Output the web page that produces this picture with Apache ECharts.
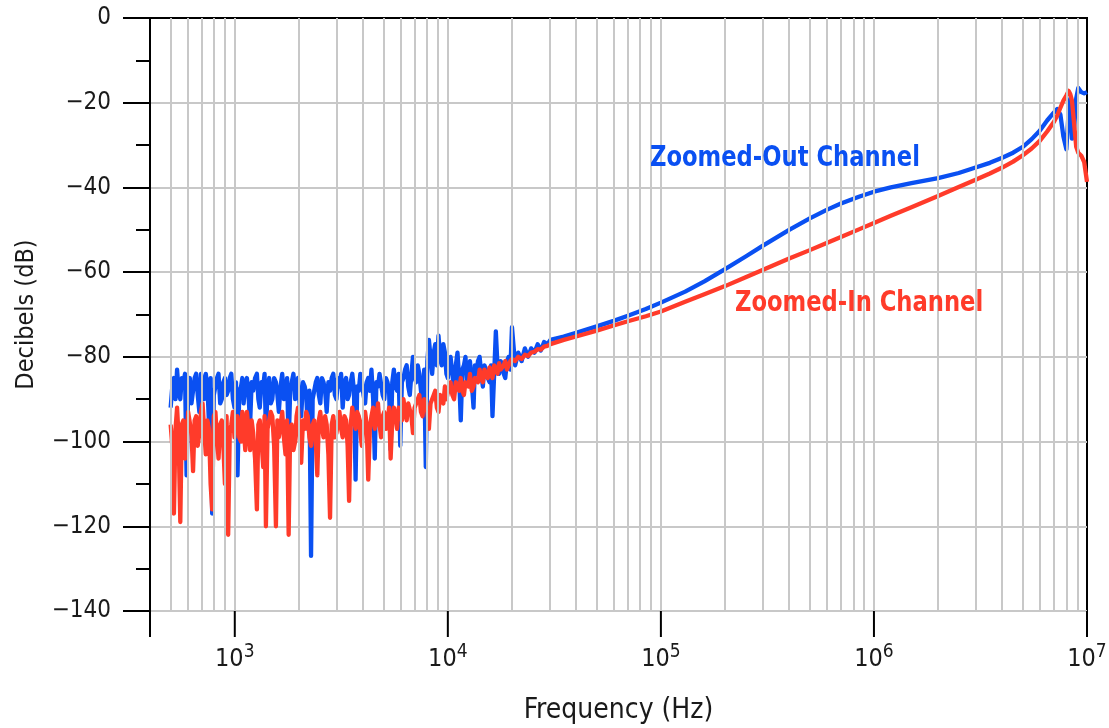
<!DOCTYPE html>
<html>
<head>
<meta charset="utf-8">
<script src="https://cdn.jsdelivr.net/npm/echarts@6/dist/echarts.min.js"></script>
<style>
html,body{margin:0;padding:0;background:#fff;}
#chart{width:1109px;height:728px;}
</style>
</head>
<body>
<div id="chart"></div>
<script>
// Frequencies (Hz) shared by both channels
var freqs = [
  500,509,518,527,536,545,555,564,574,584,594,604,615,626,637,648,659,670,682,694,706,718,731,744,757,770,783,797,811,825,839,854,869,884,899,915,931,947,963,980,997,1013,
  1030,1050,1070,1085,1100,1120,1140,1160,1180,1200,1220,1245,1270,1290,1310,1335,1360,1380,1400,1425,1450,1475,1500,1530,1560,1585,1610,1640,1670,1700,1730,1760,1790,1820,1850,1885,1920,1950,1980,2015,
  2050,2090,2130,2165,2200,2240,2280,2320,2360,2400,2440,2480,2520,2565,2610,2655,2700,2750,2800,2850,2900,2950,3000,3050,
  3100,3155,3210,3270,3330,3385,3440,3500,3560,3625,3690,3755,3820,3885,3950,4020,4090,4160,4230,4305,4380,4460,4540,4620,4700,4780,4860,4945,5030,5120,5210,5300,5390,5485,5580,5680,5780,5880,5980,6085,
  6190,6300,6410,6520,6630,6745,6860,6980,7100,7225,7350,7480,7610,7745,7880,8015,8150,8295,8440,8585,8730,8885,9040,9200,9360,9525,9690,9845,10000,10150,
  10300,10500,10700,10900,11100,11300,11500,11700,11900,12100,12300,12500,12700,12950,13200,13400,13600,13850,14100,14350,14600,14850,15100,15400,15700,15950,16200,16500,16800,17100,17400,17700,18000,18300,18600,18950,19300,19650,20000,
  20700,21400,22200,23000,23800,24600,25500,26400,27300,28300,29300,30300,
  35000,40000,50000,60000,70000,85000,100000,130000,160000,200000,250000,300000,400000,500000,600000,700000,850000,
  1000000,1200000,1500000,2000000,2500000,3000000,3500000,4000000,4500000,5000000,5500000,6000000,6500000,
  7000000,7250000,7500000,7750000,8000000,8200000,8350000,8500000,8700000,8900000,9100000,9400000,9700000,10000000
];

// Zoomed-Out Channel (dB)
var zoomedOut = [
  -92,-87,-85,-90,-83,-88,-90,-85,-86,-84,-108,-88,-85,-91,-88,-85,-84,-89,-93,-84,-86,-90,-84,-87,-96,-85,-117,-89,-87,-85,-84,-91,-90,-86,-85,-89,-88,-85,-84,-90,-92,-86,
  -108,-88,-87,-85,-91,-87,-85,-89,-96,-86,-88,-85,-84,-90,-92,-86,-87,-84,-98,-88,-85,-91,-90,-85,-86,-89,-93,-87,-84,-90,-89,-85,-101,-88,-86,-84,-90,-87,-85,-91,
  -94,-86,-87,-89,-97,-88,-127,-90,-88,-86,-85,-89,-91,-85,-86,-88,-93,-86,-88,-85,-84,-89,-90,-85,
  -87,-84,-92,-86,-85,-90,-89,-86,-84,-88,-109,-87,-88,-84,-86,-89,-91,-86,-85,-88,-83,-90,-104,-86,-87,-84,-84,-89,-90,-85,-86,-88,-102,-86,-83,-87,-88,-84,-101,-86,
  -85,-83,-82,-87,-89,-84,-80,-85,-86,-82,-84,-88,-91,-83,-106,-81,-76,-80,-84,-79,-77,-82,-75,-80,-82,-77,-79,-84,-85,-81,
  -80,-84,-88,-82,-79,-85,-95,-83,-82,-80,-86,-83,-81,-86,-92,-82,-84,-81,-80,-84,-87,-82,-83,-85,-86,-82,-94,-84,-74,-82,-84,-81,-82,-84,-85,-81,-80,-83,-73,
  -82,-79,-81,-78,-80,-78,-79,-77,-78.5,-76.5,-77,-76,
  -75.2,-74.3,-72.8,-71.5,-70.3,-68.7,-67.2,-64.6,-62.2,-59.3,-56.3,-53.8,-50,-47.3,-45.3,-43.8,-42.2,
  -41,-40,-39,-37.8,-36.6,-35.3,-34.2,-33,-31.8,-30.4,-28.6,-26.6,-24.2,
  -22.3,-21.5,-22.8,-28,-31,-22,-19,-28.5,-26,-19,-16.5,-17.5,-17.8,-17.5
];

// Zoomed-In Channel (dB)
var zoomedIn = [
  -96,-101,-117,-97,-92,-99,-119,-96,-95,-104,-100,-93,-93,-98,-107,-95,-94,-101,-98,-93,-91,-97,-103,-95,-97,-110,-116,-94,-93,-99,-104,-96,-95,-101,-110,-94,-122,-98,-96,-93,-99,-95,
  -94,-99,-100,-93,-96,-102,-93,-97,-102,-95,-98,-104,-116,-96,-95,-100,-106,-94,-120,-97,-97,-93,-94,-101,-120,-95,-99,-96,-93,-99,-103,-95,-122,-97,-96,-102,-100,-94,-92,-98,
  -105,-95,-97,-93,-94,-99,-101,-96,-95,-100,-108,-95,-93,-97,-99,-94,-96,-103,-118,-96,-94,-99,-98,-95,
  -93,-97,-99,-94,-95,-101,-114,-96,-92,-95,-97,-93,-94,-98,-101,-95,-93,-96,-109,-97,-94,-92,-97,-95,-91,-96,-99,-94,-93,-97,-96,-92,-104,-95,-92,-94,-97,-92,-93,-95,
  -90,-93,-95,-91,-91,-94,-98,-92,-92,-90,-89,-93,-94,-90,-90,-93,-97,-91,-91,-89,-88,-92,-93,-89,-89,-91,-87,-90,-90,-87,
  -86,-89,-90,-86,-87,-88,-85,-88,-89,-86,-86,-87,-84,-88,-87,-85,-85,-86,-83,-85,-86,-83,-84,-85,-82.5,-84,-85,-82,-83,-84,-81.5,-83,-83,-82,-81,-83,-82,-81,-80.5,
  -81,-80,-80.5,-79.5,-79.8,-79,-78.8,-78.2,-78.3,-77.6,-77.4,-77,
  -76,-75.2,-73.8,-72.6,-71.6,-70.4,-69.3,-67,-65.2,-63.3,-61.2,-59.5,-56.8,-54.8,-53.1,-51.7,-49.9,
  -48.4,-46.7,-44.7,-42,-39.9,-38.2,-36.7,-35.3,-33.9,-32.4,-30.8,-29,-26.8,
  -24.5,-23,-21.2,-19.5,-18.3,-17.2,-18,-19.5,-25,-30.4,-31.8,-32.5,-34,-38.7
];

var xDecades = [3,4,5,6,7];
var xTickValues = [400, 1e3, 1e4, 1e5, 1e6, 1e7];
var seriesNames = ['Zoomed-Out Channel','Zoomed-In Channel'];

var FONT = "'Liberation Sans Narrow','DejaVu Sans Condensed','Roboto',sans-serif";
var BLUE = '#0a50f2';
var RED = '#ff3b2a';
var GRID = '#c8c8c8';

function pairs(vals){ return freqs.map(function(f,i){ return [f, vals[i]]; }); }

// minor log grid lines k*10^n
var vLines = [];
for (var n = 2; n <= 6; n++) {
  for (var k = 1; k <= 9; k++) {
    var v = k * Math.pow(10, n);
    if (v > 400 && v < 1e7) vLines.push({xAxis: v});
  }
}

var chart = echarts.init(document.getElementById('chart'));
chart.setOption({
  animation: false,
  backgroundColor: '#fff',
  grid: {left:150, right:22, top:18, bottom:117, containLabel:false, outerBoundsMode:'none',
         show:true, borderColor:'#000', borderWidth:2, backgroundColor:'transparent'},
  xAxis: {
    type: 'log', logBase: 10, min: 400, max: 1e7,
    name: 'Frequency (Hz)', nameLocation: 'middle', nameGap: 86,
    nameTextStyle: {fontFamily: FONT, fontSize: 28, color: '#1a1a1a'},
    axisLine: {show:true, lineStyle:{color:'#000', width:2}},
    axisTick: {show:false},
    splitLine: {show:false},
    minorTick: {show:false},
    axisLabel: {
      margin: 32, color:'#1a1a1a', fontFamily: FONT, fontSize: 25,
      formatter: function(v){
        var e = Math.round(Math.log(v)/Math.LN10);
        if (xDecades.indexOf(e) >= 0 && Math.abs(v - Math.pow(10,e)) / v < 1e-6) return '10{sup|' + e + '}';
        return '';
      },
      rich: {sup: {fontFamily: FONT, fontSize: 19, verticalAlign:'bottom', padding:[0,0,14,0], color:'#1a1a1a'}}
    }
  },
  yAxis: {
    type: 'value', min: -140, max: 0, interval: 20,
    name: 'Decibels (dB)', nameLocation: 'middle', nameGap: 111, nameRotate: 90,
    nameTextStyle: {fontFamily: FONT, fontSize: 25, color: '#1a1a1a'},
    axisLine: {show:true, lineStyle:{color:'#000', width:2}},
    axisTick: {show:true, length:27, lineStyle:{color:'#000', width:2}},
    minorTick: {show:true, splitNumber:2, length:14, lineStyle:{color:'#000', width:2}},
    splitLine: {show:true, lineStyle:{color:GRID, width:2}},
    axisLabel: {
      margin: 39, color:'#1a1a1a', fontFamily: FONT, fontSize: 24,
      formatter: function(v){ return v === 0 ? '0' : '\u2212' + Math.abs(v); }
    }
  },
  series: [
    {
      type: 'line', name: 'grid', data: [], z: 1, silent: true, symbol: 'none',
      markLine: {
        silent: true, symbol: ['none','none'], label: {show:false},
        lineStyle: {color: GRID, width: 2, type: 'solid'},
        data: vLines, animation: false
      }
    },
    {
      type: 'custom', name: 'xticks', silent: true, clip: false, z: 5,
      data: xTickValues.map(function(v){ return [v, -140]; }),
      renderItem: function(params, api){
        var p = api.coord([api.value(0), api.value(1)]);
        return {type:'line', shape:{x1:p[0], y1:p[1], x2:p[0], y2:p[1] + 26},
                style:{stroke:'#000', lineWidth:2}};
      }
    },
    {
      type: 'line', name: seriesNames[0], data: pairs(zoomedOut), z: 3,
      showSymbol: false, symbol: 'none', lineStyle: {color: BLUE, width: 4.3, join: 'round'}, itemStyle:{color:BLUE}
    },
    {
      type: 'line', name: seriesNames[1], data: pairs(zoomedIn), z: 4,
      showSymbol: false, symbol: 'none', lineStyle: {color: RED, width: 4.3, join: 'round'}, itemStyle:{color:RED}
    }
  ],
  graphic: [
    {type:'text', x: 650, y: 145, scaleX: 0.9, z: 10, style:{text: seriesNames[0], fill: BLUE, font: 'bold 28px ' + FONT}},
    {type:'text', x: 735, y: 290, scaleX: 0.9, z: 10, style:{text: seriesNames[1], fill: RED, font: 'bold 28px ' + FONT}}
  ]
});
</script>
</body>
</html>
